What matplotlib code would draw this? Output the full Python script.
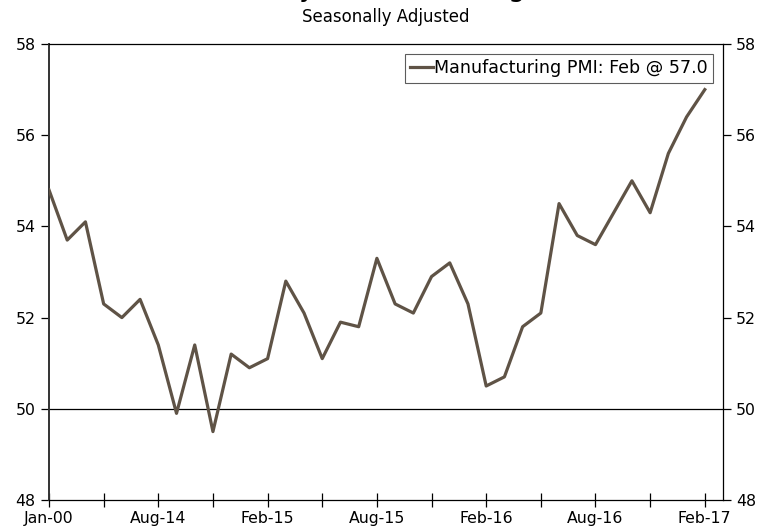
import matplotlib
matplotlib.use("Agg")
import matplotlib.pyplot as plt
import numpy as np

# Germany manufacturing PMI, Feb-2014 .. Feb-2017 (monthly)
pmi = [54.8, 53.7, 54.1, 52.3, 52.0, 52.4, 51.4, 49.9, 51.4, 49.5, 51.2, 50.9,
       51.1, 52.8, 52.1, 51.1, 51.9, 51.8, 53.3, 52.3, 52.1, 52.9, 53.2, 52.3,
       50.5, 50.7, 51.8, 52.1, 54.5, 53.8, 53.6, 54.3, 55.0, 54.3, 55.6, 56.4,
       57.0]
tick_labels = ["Jan-00", "Aug-14", "Feb-15", "Aug-15", "Feb-16", "Aug-16", "Feb-17"]
y_ticks = [48, 50, 52, 54, 56, 58]

plt.rcParams['font.family'] = ['DejaVu Sans']
x = np.arange(len(pmi))

fig = plt.figure(figsize=(7.61, 5.31), dpi=100)
ax = fig.add_axes([49/761, 31/531, 674/761, 456/531])

ax.axhline(50, color="black", lw=0.9, zorder=1)
ax.plot(x, pmi, color="#5f5346", lw=2.3, zorder=3,
        label="Manufacturing PMI: Feb @ 57.0")

ax.set_xlim(0, len(pmi))
ax.set_ylim(48, 58)
ax.set_xticks(x[::6])
ax.set_xticklabels(tick_labels, fontsize=11.3)
ax.set_xticks(x[3::6], minor=True)
ax.tick_params(axis="x", which="both", direction="inout", length=10, width=0.9, pad=3)
ax.set_yticks(y_ticks)
ax.tick_params(axis="y", which="both", direction="out", length=6, width=0.9,
               labelsize=11.3, right=True, labelright=True)
for s in ax.spines.values():
    s.set_linewidth(0.9)
ax.spines["left"].set_color("#333333")
ax.spines["left"].set_linewidth(1.4)

leg = ax.legend(loc="upper right", bbox_to_anchor=(664/674, 446/456), fontsize=12.6,
                frameon=True, fancybox=False, handlelength=1.3, handletextpad=0.08,
                borderpad=0.3, borderaxespad=0)
leg.get_frame().set_edgecolor("#333333")
leg.get_frame().set_linewidth(0.8)

# title sits mostly above the top edge, as in the source image
fig.text(386/761, 1 + 4/531, "Germany Manufacturing PMI", ha="center", va="baseline", fontsize=20)
fig.text(386/761, 1 - 22/531, "Seasonally Adjusted", ha="center", va="baseline", fontsize=12)

fig.savefig("out.png", dpi=100)
